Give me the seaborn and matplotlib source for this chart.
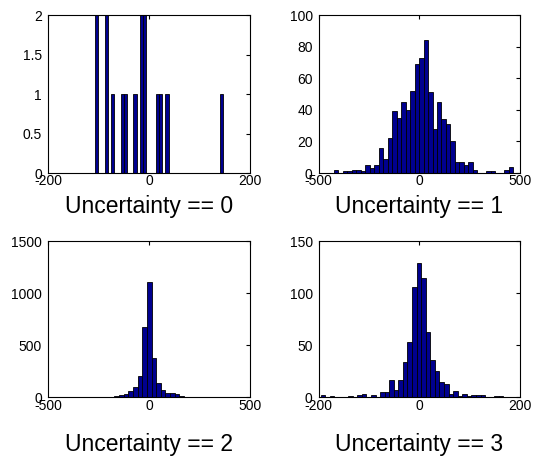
import numpy as np
import pandas as pd
import matplotlib
matplotlib.use('Agg')
import matplotlib.pyplot as plt
import seaborn as sns

# Histogram counts (40 bins per panel)
counts_u0 = [2, 0, 0, 2, 0, 1, 0, 0, 1, 1, 0, 0, 1, 0, 2, 2, 0, 0, 0, 1,
             1, 0, 1, 0, 0, 0, 0, 0, 0, 0, 0, 0, 0, 0, 0, 0, 0, 0, 0, 1]
counts_u1 = [2, 0, 1, 1, 2, 2, 1, 5, 3, 5, 16, 9, 22, 39, 35, 45, 40, 52, 69, 73,
             84, 51, 28, 45, 34, 31, 20, 7, 7, 5, 7, 2, 0, 0, 1, 1, 0, 0, 2, 4]
counts_u2 = [2, 1, 2, 1, 0, 1, 1, 2, 1, 2, 3, 5, 10, 22, 32, 60, 100, 205, 673, 1105,
             381, 135, 70, 42, 42, 32, 13, 5, 3, 2, 1, 1, 1, 0, 1, 0, 2, 1, 2, 1]
counts_u3 = [2, 0, 1, 0, 0, 0, 1, 0, 2, 3, 0, 2, 0, 5, 5, 17, 7, 17, 34, 53,
             106, 129, 115, 63, 36, 25, 15, 13, 3, 6, 1, 3, 1, 2, 2, 2, 0, 0, 1, 1]

# data range covered by the bins of each panel
ranges = [(-107, 147), (-424, 466), (-447, 473), (-196, 167)]
labels = ['Uncertainty == 0', 'Uncertainty == 1', 'Uncertainty == 2', 'Uncertainty == 3']
xlims = [(-200, 200), (-500, 500), (-500, 500), (-200, 200)]
xticks = [[-200, 0, 200], [-500, 0, 500], [-500, 0, 500], [-200, 0, 200]]
ylims = [(0, 2), (0, 100), (0, 1500), (0, 150)]
yticks = [[0, 0.5, 1, 1.5, 2], [0, 20, 40, 60, 80, 100], [0, 500, 1000, 1500], [0, 50, 100, 150]]
ytick_labels = [['0', '0.5', '1', '1.5', '2'], ['0', '20', '40', '60', '80', '100'],
                ['0', '500', '1000', '1500'], ['0', '50', '100', '150']]
all_counts = [counts_u0, counts_u1, counts_u2, counts_u3]

sns.set_theme(style='white')
plt.rcParams['font.family'] = ['Liberation Sans', 'DejaVu Sans']
plt.rcParams['xtick.direction'] = 'in'
plt.rcParams['ytick.direction'] = 'in'
plt.rcParams['text.color'] = 'black'
plt.rcParams['axes.labelcolor'] = 'black'
plt.rcParams['xtick.color'] = 'black'
plt.rcParams['ytick.color'] = 'black'

fig = plt.figure(figsize=(5.34, 4.57), dpi=100)

# axes boxes in figure fractions (left, bottom, width, height)
boxes = [(0.0899, 0.6214, 0.378, 0.3457), (0.5968, 0.6214, 0.377, 0.3457),
         (0.0899, 0.1306, 0.378, 0.3414), (0.5968, 0.1306, 0.377, 0.3414)]
pads = [4.5, 4.5, 14.5, 14.5]

for i in range(4):
    ax = fig.add_axes(boxes[i])
    lo, hi = ranges[i]
    nb = len(all_counts[i])
    edges = np.linspace(lo, hi, nb + 1)
    df = pd.DataFrame({'center': (edges[:-1] + edges[1:]) / 2,
                       'n': np.array(all_counts[i], dtype=float)})
    sns.histplot(data=df, x='center', weights='n', bins=nb, binrange=(lo, hi), ax=ax,
                 color='#00008f', edgecolor='black', linewidth=0.6, alpha=1)
    ax.set_xlim(xlims[i])
    ax.set_ylim(ylims[i])
    ax.set_xticks(xticks[i])
    ax.set_xticklabels([str(t) for t in xticks[i]])
    ax.set_yticks(yticks[i])
    ax.set_yticklabels(ytick_labels[i])
    ax.tick_params(axis='both', which='both', top=True, right=True, length=3,
                   width=0.8, labelsize=10)
    ax.tick_params(axis='x', pad=1)
    ax.tick_params(axis='y', pad=4.3)
    ax.set_ylabel('')
    ax.set_xlabel(labels[i], fontsize=16.5, labelpad=pads[i])
    for s in ax.spines.values():
        s.set_color('black')
        s.set_linewidth(0.8)

fig.savefig('out.png', dpi=100)
